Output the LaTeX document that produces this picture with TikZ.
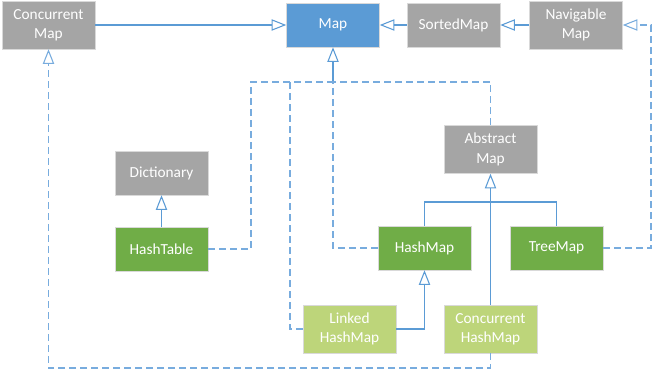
\documentclass[tikz,border=0pt]{standalone}
\usepackage{fontspec}
\setmainfont{Carlito}
\usetikzlibrary{arrows.meta}
\definecolor{cgray}{RGB}{165,165,165}
\definecolor{cblue}{RGB}{91,155,213}
\definecolor{cgreen}{RGB}{112,173,71}
\definecolor{clight}{RGB}{189,213,122}
\definecolor{cline}{RGB}{91,155,213}
\definecolor{cdash}{RGB}{120,172,222}
\begin{document}
\begin{tikzpicture}[x=0.75pt,y=-0.75pt,
  box/.style={rectangle,inner sep=0pt,minimum width=69.75pt,text=white,align=center,
    font=\fontsize{11.5}{14.5}\selectfont,draw=white!85!black,line width=0.4pt},
  grey/.style={box,fill=cgray},
  blue/.style={box,fill=cblue},
  dgreen/.style={box,fill=cgreen},
  lgreen/.style={box,fill=clight},
  h44/.style={minimum height=33pt},
  h48/.style={minimum height=36pt},
  tri/.style={-{Triangle[open,length=11pt,width=8.5pt,fill=white]}},
  sline/.style={draw=cline,line width=0.8pt},
  dline/.style={draw=cdash,line width=0.8pt,dash pattern=on 5.25pt off 3pt}]
\useasboundingbox (0,0) rectangle (653,370);
\node[grey,h48] (cm) at (48.5,25) {Concurrent\\Map};
\node[blue,h44] (map) at (333,25) {Map};
\node[grey,h44] (sm) at (453.5,25) {SortedMap};
\node[grey,h48] (nm) at (576,25) {Navigable\\Map};
\node[grey,h48] (am) at (490.5,149.5) {Abstract\\Map};
\node[grey,h44] (dict) at (161.5,173) {Dictionary};
\node[dgreen,h44] (ht) at (161.5,249) {HashTable};
\node[dgreen,h44] (hm) at (424.5,248) {HashMap};
\node[dgreen,h44] (tm) at (556.5,248) {TreeMap};
\node[lgreen,h48] (lhm) at (349.5,329) {Linked\\HashMap};
\node[lgreen,h48] (chm) at (490.5,329) {Concurrent\\HashMap};
\coordinate (j) at (333,82);
\coordinate (ja) at (251,82);
\coordinate (jb) at (290,82);
\coordinate (jc) at (490.5,202);
\coordinate (r) at (651,25);
\coordinate (bl) at (48.5,368);
% solid generalisations
\draw[sline,tri] (cm.east) -- (map.west);
\draw[sline,tri] (sm.west) -- (map.east);
\draw[sline,tri] (nm.west) -- (sm.east);
\draw[sline,tri] (j) -- (map.south);
\draw[sline,tri] (ht.north) -- (dict.south);
\draw[sline] (hm.north) |- (jc);
\draw[sline] (tm.north) |- (jc);
\draw[sline,tri] (chm.north) -- (am.south);
\draw[sline,tri] (lhm.east) -| (hm.south);
% dashed realisations
\draw[dline] (ht.east) -| (ja) -- (j);
\draw[dline] (lhm.west) -| (jb);
\draw[dline] (hm.west) -| (j);
\draw[dline] (am.north) |- (j);
\draw[dline,tri] (tm.east) -| (r) -- (nm.east);
\draw[dline,tri] (chm.south) |- (bl) -- (cm.south);
\end{tikzpicture}
\end{document}
